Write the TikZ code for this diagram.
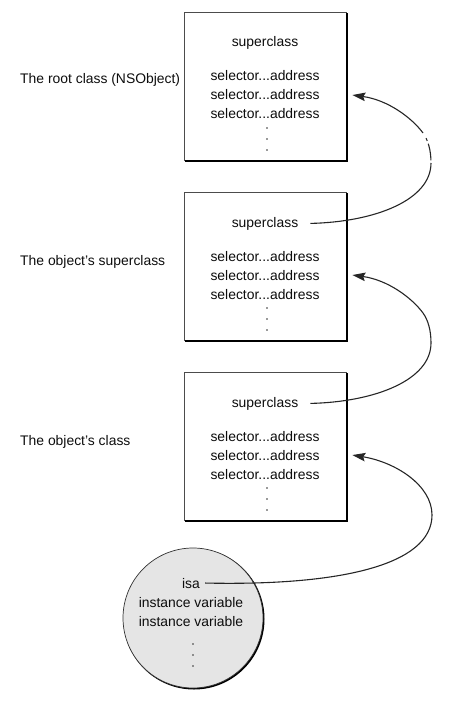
\documentclass[tikz,border=0pt]{standalone}
\usepackage{fontspec}
\setmainfont{Liberation Sans}
\usetikzlibrary{arrows.meta,calc}
\begin{document}
\begin{tikzpicture}[x=1pt,y=-1pt,
  box/.style={draw=black!70, line width=0.7pt, fill=white, minimum width=162pt, minimum height=148pt, inner sep=0pt},
  shade/.style={draw=black, line width=1.4pt},
  obj/.style={circle, draw=black!80, line width=0.7pt, fill=black!10, minimum size=140pt, inner sep=0pt},
  objshade/.style={circle, fill=black, minimum size=141pt, inner sep=0pt},
  txt/.style={anchor=base, inner sep=0pt, text=black!95, font=\fontsize{13.9}{19}\selectfont},
  lbl/.style={anchor=base west, inner sep=0pt, text=black!95, font=\fontsize{13.9}{19}\selectfont},
  vdot/.style={circle, fill=black!80, inner sep=0pt, minimum size=1.9pt},
  conn/.style={draw=black!85, line width=1.1pt},
  tip/.style={-{Stealth[length=13pt,width=8.5pt,inset=2pt]}}
]
\useasboundingbox (0,0) rectangle (454,703);

% class boxes
\node[box] (box1) at (265,86) {};
\node[box] (box2) at (265,266) {};
\node[box] (box3) at (265,446) {};
\foreach \b in {box1,box2,box3}{
  \draw[shade] ($(\b.north east)+(0.7,1.5)$) -- ($(\b.south east)+(0.7,0.7)$) -- ($(\b.south west)+(1.5,0.7)$);
}

% box 1
\node[txt] (sc1) at (265,47) {superclass};
\node[txt] (s1a) at (265,81) {selector...address};
\node[txt] (s1b) at (265,100) {selector...address};
\node[txt] (s1c) at (265,119) {selector...address};
\node[vdot] (d1a) at (267,128) {};
\node[vdot] (d1b) at (267,139) {};
\node[vdot] (d1c) at (267,150) {};

% box 2
\node[txt] (sc2) at (265,227) {superclass};
\node[txt] (s2a) at (265,261) {selector...address};
\node[txt] (s2b) at (265,280) {selector...address};
\node[txt] (s2c) at (265,299) {selector...address};
\node[vdot] (d2a) at (267,308) {};
\node[vdot] (d2b) at (267,319) {};
\node[vdot] (d2c) at (267,330) {};

% box 3
\node[txt] (sc3) at (265,407) {superclass};
\node[txt] (s3a) at (265,441) {selector...address};
\node[txt] (s3b) at (265,460) {selector...address};
\node[txt] (s3c) at (265,479) {selector...address};
\node[vdot] (d3a) at (267,488) {};
\node[vdot] (d3b) at (267,499) {};
\node[vdot] (d3c) at (267,510) {};

% object
\node[objshade] (objsh) at (194,619) {};
\node[obj] (obj) at (193,618) {};
\node[txt] (isa) at (191,588) {isa};
\node[txt] (iv1) at (191,607) {instance variable};
\node[txt] (iv2) at (191,626) {instance variable};
\node[vdot] (od1) at (193,644) {};
\node[vdot] (od2) at (193,655) {};
\node[vdot] (od3) at (193,666) {};

% labels
\node[lbl] (l1) at (20,84) {The root class (NSObject)};
\node[lbl] (l2) at (20,265) {The object's superclass};
\node[lbl] (l3) at (20,445) {The object's class};

% connector end points
\coordinate (a1s) at ($(sc2.east)+(12,0)$);
\coordinate (a1e) at ($(box1.east |- s1b.east)+(6,0)$);
\coordinate (a1m1) at (431,163);
\coordinate (a1m2) at (423,133);
\coordinate (a2s) at ($(sc3.east)+(12,0)$);
\coordinate (a2e) at ($(box2.east |- s2b.east)+(6,0)$);
\coordinate (a2m1) at (431,343);
\coordinate (a2m2) at (423,313);
\coordinate (a3s) at ($(isa.east)+(5,0)$);
\coordinate (a3e) at ($(box3.east |- s3b.east)+(6,0)$);
\coordinate (a3m) at (432,515);

% superclass of object's superclass -> root class
\draw[conn] (a1s) .. controls (375,222) and (431,200) .. (a1m1);
\draw[conn, dash pattern=on 0pt off 6pt on 3pt off 3pt on 17pt off 3pt] (a1m2) .. controls (428,140) and (431,150) .. (a1m1);
\draw[conn, tip] (a1m2) .. controls (412,118) and (388,100) .. (a1e);

% superclass of object's class -> object's superclass
\draw[conn, tip] (a2s) .. controls (375,402) and (431,380) .. (a2m1)
  .. controls (431,330) and (428,320) .. (a2m2)
  .. controls (412,298) and (388,280) .. (a2e);

% isa -> object's class
\draw[conn, tip] (a3s) .. controls (340,586) and (432,565) .. (a3m)
  .. controls (432,485) and (395,462) .. (a3e);
\end{tikzpicture}
\end{document}
